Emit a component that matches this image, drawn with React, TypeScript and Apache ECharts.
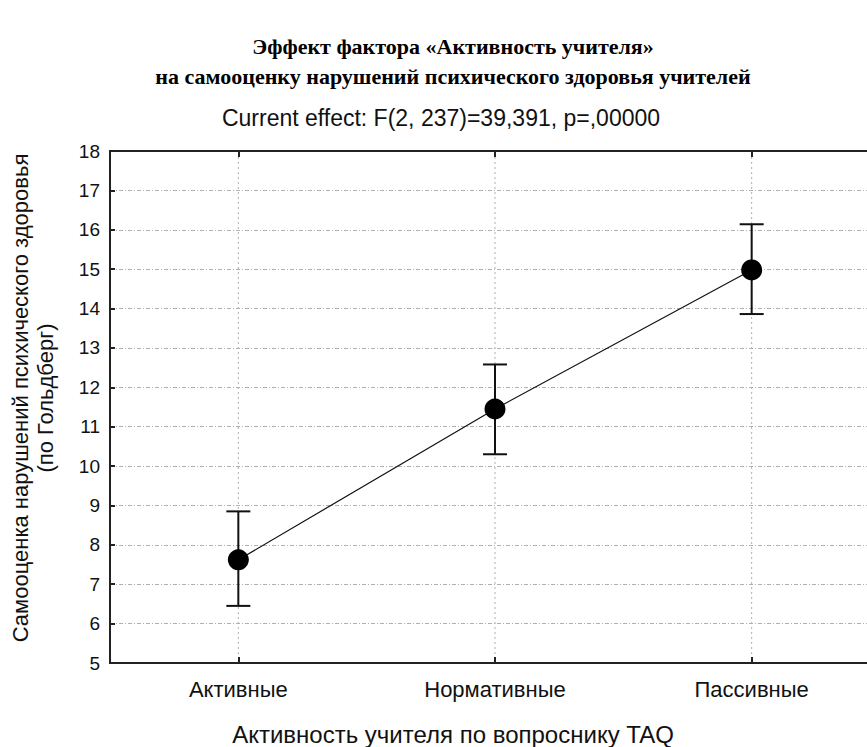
import React, { useEffect, useRef } from "react";
import * as echarts from "echarts";

const categories = ["Активные", "Нормативные", "Пассивные"];
const means = [7.62, 11.45, 14.98];
const lowerCI = [6.45, 10.3, 13.86];
const upperCI = [8.85, 12.58, 16.14];
const yMin = 5;
const yMax = 18;

const titleLines = [
  "Эффект фактора «Активность учителя»",
  "на самооценку нарушений психического здоровья учителей",
];
const subtitle = "Current effect: F(2, 237)=39,391, p=,00000";
const xName = "Активность учителя по вопроснику TAQ";
const yNameLines = ["Самооценка нарушений психического здоровья", "(по Гольдберг)"];

export default function App() {
  const ref = useRef<HTMLDivElement>(null);
  useEffect(() => {
    if (!ref.current) return;
    const chart = echarts.init(ref.current, null, { renderer: "svg" });
    const sans = "'Liberation Sans', Arial, sans-serif";
    const gridLine = { color: "#b0b0b0", width: 1, type: [4, 2, 1, 2] as any };
    chart.setOption({
      animation: false,
      backgroundColor: "#fff",
      grid: {
        left: 110,
        right: 0,
        top: 151,
        bottom: 84,
        show: true,
        borderColor: "#222",
        borderWidth: 2,
        containLabel: false,
      },
      graphic: [
        {
          type: "text",
          x: 453,
          y: 31,
          style: {
            text: titleLines.join("\n"),
            font: "bold 22px 'Liberation Serif', 'Times New Roman', serif",
            fill: "#000",
            align: "center",
            verticalAlign: "top",
            lineHeight: 30,
          },
        },
        {
          type: "text",
          x: 441,
          y: 118,
          style: {
            text: subtitle,
            font: `23px ${sans}`,
            fill: "#111",
            align: "center",
            verticalAlign: "middle",
          },
        },
        {
          type: "text",
          x: 453,
          y: 734,
          style: {
            text: xName,
            font: `24px ${sans}`,
            fill: "#111",
            align: "center",
            verticalAlign: "middle",
          },
        },
        {
          type: "text",
          x: 33,
          y: 398,
          rotation: Math.PI / 2,
          style: {
            text: yNameLines.join("\n"),
            font: `22px ${sans}`,
            fill: "#111",
            align: "center",
            verticalAlign: "middle",
            lineHeight: 25,
          },
        },
      ],
      xAxis: [
        {
          type: "category",
          data: categories,
          boundaryGap: true,
          position: "bottom",
          axisLine: { show: true, lineStyle: { color: "#222", width: 2 } },
          axisTick: { show: true, inside: true, alignWithLabel: true, length: 6, lineStyle: { color: "#222", width: 2 } },
          axisLabel: { color: "#111", fontSize: 22, fontFamily: sans, margin: 15 },
          splitLine: { show: false },
        },
        {
          type: "category",
          data: categories,
          boundaryGap: true,
          position: "top",
          axisLine: { show: true, lineStyle: { color: "#222", width: 2 } },
          axisTick: { show: true, inside: true, alignWithLabel: true, length: 6, lineStyle: { color: "#222", width: 2 } },
          axisLabel: { show: false },
          splitLine: { show: false },
        },
      ],
      yAxis: {
        type: "value",
        min: yMin,
        max: yMax,
        interval: 1,
        axisLine: { show: true, lineStyle: { color: "#222", width: 2 } },
        axisTick: { show: true, inside: true, length: 5, lineStyle: { color: "#222", width: 2 } },
        axisLabel: { color: "#111", fontSize: 19, fontFamily: sans, margin: 10 },
        splitLine: { show: true, lineStyle: gridLine },
      },
      series: [
        {
          type: "custom",
          z: 3,
          data: categories.map((c, i) => [i, lowerCI[i], upperCI[i]]),
          encode: { x: 0, y: [1, 2] },
          renderItem: (params: any, api: any) => {
            const xi = api.value(0);
            const lo = api.coord([xi, api.value(1)]);
            const hi = api.coord([xi, api.value(2)]);
            const top = api.coord([xi, yMax]);
            const bottom = api.coord([xi, yMin]);
            const w = 12;
            const st = { stroke: "#111", lineWidth: 2 };
            return {
              type: "group",
              children: [
                {
                  type: "line",
                  shape: { x1: top[0], y1: top[1] + 6, x2: bottom[0], y2: bottom[1] - 6 },
                  style: { stroke: "#b0b0b0", lineWidth: 1, lineDash: [2, 3] },
                },
                { type: "line", shape: { x1: hi[0], y1: hi[1], x2: lo[0], y2: lo[1] }, style: st },
                { type: "line", shape: { x1: hi[0] - w, y1: hi[1], x2: hi[0] + w, y2: hi[1] }, style: st },
                { type: "line", shape: { x1: lo[0] - w, y1: lo[1], x2: lo[0] + w, y2: lo[1] }, style: st },
              ],
            };
          },
        },
        {
          type: "line",
          z: 4,
          data: means,
          symbol: "circle",
          symbolSize: 21,
          itemStyle: { color: "#000" },
          lineStyle: { color: "#111", width: 1.2 },
        },
      ],
    });
    return () => chart.dispose();
  }, []);
  return (
    <div style={{ position: "fixed", left: 0, top: 0, width: 867, height: 747, overflow: "hidden", background: "#fff" }}>
      <div ref={ref} style={{ width: 880, height: 747 }} />
    </div>
  );
}
